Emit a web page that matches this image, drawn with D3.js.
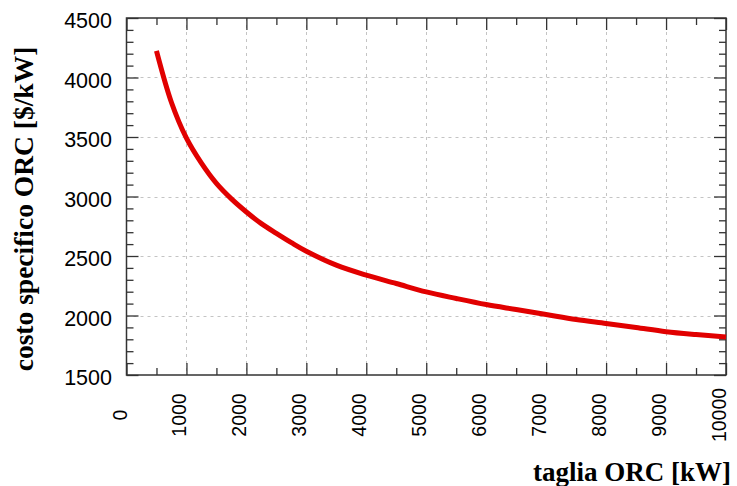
<!DOCTYPE html>
<html>
<head>
<meta charset="utf-8">
<script src="https://cdn.jsdelivr.net/npm/d3@7"></script>
<style>
  html, body { margin: 0; padding: 0; background: #fff; }
  svg { display: block; }
</style>
</head>
<body>
<svg id="chart" width="737" height="486"></svg>
<script>
// ---- data ----
const sizes = [500, 750, 1000, 1250, 1500, 1750, 2000, 2250, 2500, 2750, 3000, 3500, 4000, 4500, 5000, 5500, 6000, 6500, 7000, 7500, 8000, 8500, 9000, 9500, 10000];
const costs = [4224, 3790, 3490, 3280, 3110, 2980, 2870, 2772, 2690, 2612, 2540, 2423, 2339, 2269, 2198, 2143, 2092, 2050, 2008, 1966, 1933, 1899, 1864, 1840, 1820];
const xTicks = [0, 1000, 2000, 3000, 4000, 5000, 6000, 7000, 8000, 9000, 10000];
const yTicks = [1500, 2000, 2500, 3000, 3500, 4000, 4500];
const xLabel = "taglia ORC [kW]";
const yLabel = "costo specifico ORC [$/kW]";

// ---- layout ----
const L = 126.5, R = 726, T = 18, B = 375;
const svg = d3.select("#chart");
const x = d3.scaleLinear().domain([0, 10000]).range([L, R]);
const y = d3.scaleLinear().domain([1500, 4500]).range([B, T]);

const xMinor = d3.range(500, 10000, 1000);
const yMinor = d3.range(1500, 4500, 100).filter(v => v % 500 !== 0);

// grid
const grid = svg.append("g").attr("stroke", "#c4c4c4").attr("stroke-width", 1).attr("stroke-dasharray", "3,4");
grid.selectAll("line.gx").data(xTicks.slice(1, -1)).join("line")
  .attr("x1", d => Math.round(x(d)) + 0.5).attr("x2", d => Math.round(x(d)) + 0.5)
  .attr("y1", T).attr("y2", B);
grid.selectAll("line.gy").data(yTicks.slice(1, -1)).join("line")
  .attr("y1", d => Math.round(y(d)) + 0.5).attr("y2", d => Math.round(y(d)) + 0.5)
  .attr("x1", L).attr("x2", R);

// axes (inward ticks on all four sides)
function styleAxis(g) {
  g.select(".domain").remove();
  g.selectAll("line").attr("stroke", "#333").attr("stroke-width", 1.3);
  g.selectAll("text").remove();
}
svg.append("g").attr("transform", `translate(0,${B})`).call(d3.axisBottom(x).tickValues(xTicks).tickSize(-12)).call(styleAxis);
svg.append("g").attr("transform", `translate(0,${B})`).call(d3.axisBottom(x).tickValues(xMinor).tickSize(-7)).call(styleAxis);
svg.append("g").attr("transform", `translate(0,${T})`).call(d3.axisTop(x).tickValues(xTicks).tickSize(-12)).call(styleAxis);
svg.append("g").attr("transform", `translate(0,${T})`).call(d3.axisTop(x).tickValues(xMinor).tickSize(-7)).call(styleAxis);
svg.append("g").attr("transform", `translate(${L},0)`).call(d3.axisLeft(y).tickValues(yTicks).tickSize(-12)).call(styleAxis);
svg.append("g").attr("transform", `translate(${L},0)`).call(d3.axisLeft(y).tickValues(yMinor).tickSize(-7)).call(styleAxis);
svg.append("g").attr("transform", `translate(${R},0)`).call(d3.axisRight(y).tickValues(yTicks).tickSize(-12)).call(styleAxis);
svg.append("g").attr("transform", `translate(${R},0)`).call(d3.axisRight(y).tickValues(yMinor).tickSize(-7)).call(styleAxis);

// frame
svg.append("rect").attr("x", L).attr("y", T).attr("width", R - L).attr("height", B - T)
  .attr("fill", "none").attr("stroke", "#333").attr("stroke-width", 1.5);

// y tick labels
svg.append("g").selectAll("text").data(yTicks).join("text")
  .attr("x", 112).attr("y", d => y(d) + 3)
  .attr("text-anchor", "end").attr("dominant-baseline", "central")
  .attr("font-family", "Liberation Sans, Arial, sans-serif").attr("font-size", 21.5)
  .attr("fill", "#000").text(d => d);

// x tick labels (rotated)
svg.append("g").selectAll("text").data(xTicks).join("text")
  .attr("transform", d => `translate(${x(d)},415) rotate(-90)`)
  .attr("text-anchor", "middle")
  .attr("font-family", "Liberation Sans, Arial, sans-serif").attr("font-size", 19.5)
  .attr("fill", "#000").text(d => d);

// curve
const line = d3.line().x((d, i) => x(sizes[i])).y(d => y(d)).curve(d3.curveCatmullRom);
svg.append("path").datum(costs).attr("d", line)
  .attr("fill", "none").attr("stroke", "#e10000").attr("stroke-width", 5);

// axis titles
svg.append("text").attr("x", 731).attr("y", 481).attr("text-anchor", "end")
  .attr("font-family", "Liberation Serif, 'Times New Roman', serif").attr("font-weight", "bold")
  .attr("font-size", 27).attr("fill", "#000").text(xLabel);
svg.append("text").attr("transform", "translate(33,209) rotate(-90)").attr("text-anchor", "middle")
  .attr("font-family", "Liberation Serif, 'Times New Roman', serif").attr("font-weight", "bold")
  .attr("font-size", 27.5).attr("fill", "#000").text(yLabel);
</script>
</body>
</html>
